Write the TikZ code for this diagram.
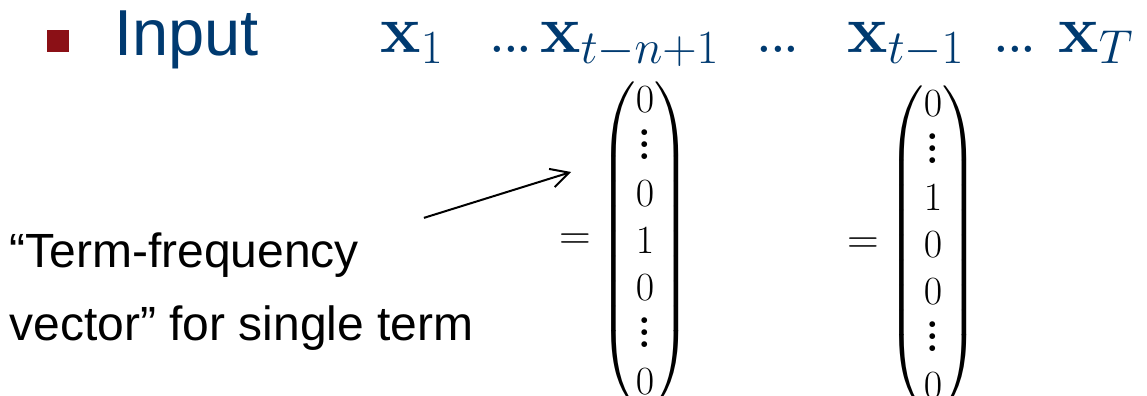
\RequirePackage{fix-cm}
\documentclass[tikz,border=0pt]{standalone}
\usepackage{amsmath}
\usepackage[no-math]{fontspec}
\newfontfamily\arialfont{Liberation Sans}
\usetikzlibrary{positioning,calc,arrows.meta}
\definecolor{slideblue}{RGB}{0,58,112}
\definecolor{slidered}{RGB}{139,16,22}
\newcommand{\colvdots}{\vbox{\baselineskip6pt\lineskiplimit0pt\hbox{\bfseries .}\hbox{\bfseries .}\hbox{\bfseries .}}}
\tikzset{ARROW/.style={line width=1pt, -{Straight Barb[length=9pt,width=9.5pt]}}}
\tikzset{BULLET/.style={rectangle, fill=slidered, minimum size=11pt, inner sep=0pt}}
\tikzset{HEAD/.style={inner sep=0pt, anchor=base west, text=slideblue, font=\arialfont\fontsize{32.5}{39}\selectfont}}
\tikzset{SEQ/.style={inner sep=0pt, anchor=base west, text=slideblue, font=\fontsize{34}{40}\selectfont}}
\tikzset{DOTS/.style={inner sep=0pt, anchor=base, text=slideblue, font=\bfseries\fontsize{22}{26}\selectfont}}
\tikzset{VEC/.style={inner sep=0pt, anchor=base, font=\fontsize{20}{23.5}\selectfont}}
\tikzset{NOTE/.style={inner sep=0pt, anchor=base west, align=left, font=\arialfont\fontsize{24}{36.5}\selectfont}}

\begin{document}
\begin{tikzpicture}[x=0.5pt,y=-0.5pt]
    \useasboundingbox (0,0) rectangle (1147,396);

    \node[BULLET] (n_bullet) at (57.5,40.5) {};
    \node[HEAD] (n_input) at (114,55) {Input};

    \node[SEQ] (n_x1) at (380,53) {$\mathbf{x}_1$};
    \node[DOTS] (n_dots1) at (511,53) {...};
    \node[SEQ] (n_xtn) at (540,53) {$\mathbf{x}_{t-n+1}$};
    \node[DOTS] (n_dots2) at (778,53) {...};
    \node[SEQ] (n_xt) at (847,53) {$\mathbf{x}_{t-1}$};
    \node[DOTS] (n_dots3) at (1015,53) {...};
    \node[SEQ] (n_xT) at (1058,53) {$\mathbf{x}_T$};

    \node[VEC] (n_vecA) at (645,254) {$\begin{pmatrix}0\\\colvdots\\0\\1\\0\\\colvdots\\0\end{pmatrix}$};
    \node[VEC, anchor=base east, scale=1.1] (n_eqA) at ($(n_vecA.base west)+(-8,-5)$) {$=$};
    \node[VEC] (n_vecB) at (933,258) {$\begin{pmatrix}0\\\colvdots\\1\\0\\0\\\colvdots\\0\end{pmatrix}$};
    \node[VEC, anchor=base east, scale=1.1] (n_eqB) at ($(n_vecB.base west)+(-8,-5)$) {$=$};

    \node[NOTE] (n_note) at (9,340) {“Term-frequency\\vector” for single term};

    \coordinate (arrow_tail) at ($(n_note.north east)+(-50,-14)$);
    \coordinate (arrow_tip) at ($(n_vecA.west)+(-28,-72)$);
    \draw[ARROW] (arrow_tail) -- (arrow_tip);
\end{tikzpicture}
\end{document}
